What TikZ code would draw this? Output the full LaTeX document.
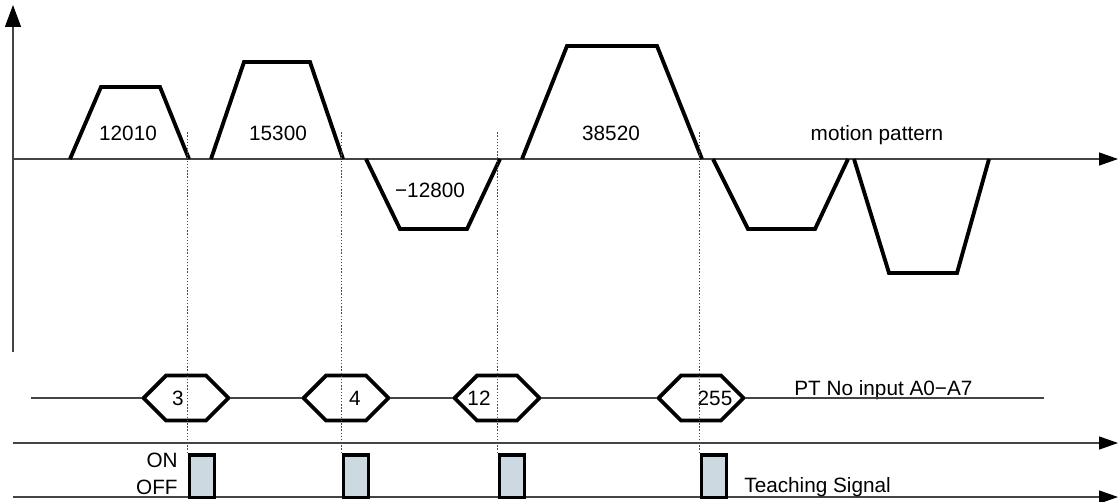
\documentclass[tikz,border=0pt]{standalone}
\usepackage{fontspec}
\setmainfont{Liberation Sans}
\usetikzlibrary{arrows.meta, shapes.symbols}
\definecolor{axisgray}{HTML}{444444}
\definecolor{pulseblue}{HTML}{CDD9E0}
\tikzstyle{axisline}=[line width=0.75pt, draw=axisgray]
\tikzstyle{profile}=[line width=2.2pt, line join=miter]
\tikzstyle{guide}=[densely dotted, line width=0.8pt, draw=black!70]
\tikzstyle{code}=[shape=signal, signal to=west and east, signal pointer angle=90, minimum width=1.7cm, minimum height=0.9cm, inner sep=0pt, line width=2.2pt, draw=black]
\tikzstyle{pulse}=[rectangle, minimum width=0.5cm, minimum height=0.85cm, inner sep=0pt, line width=2pt, draw=black, fill=pulseblue]
\tikzstyle{annot}=[inner sep=0pt, anchor=base]

\begin{document}
\begin{tikzpicture}[x=0.02cm, y=-0.02cm, font=\fontsize{11.8}{13}\selectfont, >={Triangle[length=3.8mm, width=2.6mm, color=black]}]
\useasboundingbox (0,0) rectangle (1118,501);

\coordinate (ybot) at (13,352);
\coordinate (ytop) at (13,5);
\coordinate (x0) at (13,159);
\coordinate (x1) at (1118,159);
\coordinate (s0) at (13,443);
\coordinate (s1) at (1118,443);
\coordinate (t0) at (13,497);
\coordinate (t1) at (1118,497);
\coordinate (pt0) at (31,398);
\coordinate (pt1) at (1044,398);
\coordinate (gtop) at (0,132);

\draw [axisline, -{Triangle[length=4.4mm, width=3.2mm, color=black]}] (ybot) -- (ytop);
\draw [axisline, ->] (x0) -- (x1);
\draw [axisline, ->] (s0) -- (s1);
\draw [axisline, ->] (t0) -- (t1);

\draw [profile] (70,159) -- (101,87) -- (160,87) -- (189,159);
\draw [profile] (211,159) -- (244,62) -- (310,62) -- (343,159);
\draw [profile] (366,159) -- (400,229) -- (467,229) -- (500,159);
\draw [profile] (522,159) -- (567,46) -- (657,46) -- (702,159);
\draw [profile] (713,159) -- (748,229) -- (815,229) -- (848,159);
\draw [profile] (854,159) -- (889,273) -- (957,273) -- (989,159);

\node [annot] (v1) at (128,140) {12010};
\node [annot] (v2) at (278,140) {15300};
\node [annot] (v3) at (430,197) {−12800};
\node [annot] (v4) at (611,140) {38520};
\node [annot] (mp) at (877,140) {motion pattern};

\node [code] (c1) at (186,398) {};
\node [code] (c2) at (346,398) {};
\node [code] (c3) at (497,398) {};
\node [code] (c4) at (701,398) {};

\node [annot] (n1) at (178,405) {3};
\node [annot] (n2) at (355,405) {4};
\node [annot] (n3) at (479,405) {12};
\node [annot] (n4) at (715,405) {255};
\node [annot, anchor=base west] (ptlab) at (794,395) {PT No input A0−A7};

\draw [axisline] (pt0) -- (c1.west);
\draw [axisline] (c1.east) -- (c2.west);
\draw [axisline] (c2.east) -- (c3.west);
\draw [axisline] (c3.east) -- (c4.west);
\draw [axisline] (c4.east) -- (pt1);

\node [pulse] (p1) at (202,476) {};
\node [pulse] (p2) at (356,476) {};
\node [pulse] (p3) at (512,476) {};
\node [pulse] (p4) at (714,476) {};

\node [annot, anchor=base east] (on) at (178,467) {ON};
\node [annot, anchor=base east] (off) at (178,494) {OFF};
\node [annot, anchor=base west] (teach) at (744,492) {Teaching Signal};

\draw [guide] (p1.north west) -- (p1.north west |- gtop);
\draw [guide] (p2.north west) -- (p2.north west |- gtop);
\draw [guide] (p3.north west) -- (p3.north west |- gtop);
\draw [guide] (p4.north west) -- (p4.north west |- gtop);

\end{tikzpicture}
\end{document}
